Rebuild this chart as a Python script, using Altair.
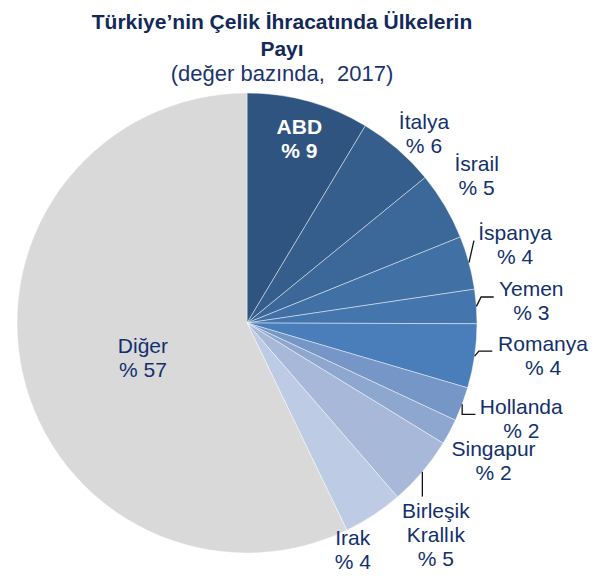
import math
import altair as alt
import pandas as pd

# ---- data ----
countries = ["ABD", "İtalya", "İsrail", "İspanya", "Yemen", "Romanya",
             "Hollanda", "Singapur", "Birleşik Krallık", "Irak", "Diğer"]
shares = [8.6, 5.5, 4.8, 3.75, 2.4, 4.5, 2.4, 1.8, 4.9, 4.2, 57.15]
pct_labels = ["% 9", "% 6", "% 5", "% 4", "% 3", "% 4", "% 2", "% 2", "% 5", "% 4", "% 57"]
name_lines = ["ABD", "İtalya", "İsrail", "İspanya", "Yemen", "Romanya",
              "Hollanda", "Singapur", "Birleşik\nKrallık", "Irak", "Diğer"]
colors = ["#2f5480", "#365e8c", "#3b6898", "#4070a4", "#4475ad", "#4a7ebb",
          "#7596c6", "#8ea7cf", "#a7b8d8", "#bdcbe4", "#d9d9d9"]

# ---- label layout (angle nudge in % units, radius in px) ----
label_nudge = [0.14, 0.68, -0.5, -0.25, -0.02, -0.47, -0.33, 0.32, 2.27, 2.33, -1.68]
label_radius = [190, 258, 272, 279, 285, 298, 291, 283, 285, 251, 110]

# ---- leader line shapes (pixel offsets from the slice's edge point) ----
leader_country = ["İspanya", "İspanya", "Yemen", "Yemen", "Yemen",
                  "Romanya", "Romanya", "Romanya", "Hollanda", "Hollanda", "Hollanda",
                  "Birleşik Krallık", "Birleşik Krallık"]
leader_ox = [0, 5, 0, 4.7, 17.3, 0, 4.3, 17.7, 0, 0, 13.3, 0, 0]
leader_oy = [0, -22, 0, -9.4, -9.4, 0, -5, -5, 0, 10, 10, 0, 24.7]

CX, CY, R = 239, 215, 230

df = pd.DataFrame({
    "country": countries,
    "share": shares,
    "idx": list(range(len(countries))),
})
cum = df["share"].cumsum()
df["mid"] = cum - df["share"] / 2
df["lpos"] = df["mid"] + pd.Series(label_nudge)
df["lrad"] = label_radius
df["label"] = [n + "\n" + p for n, p in zip(name_lines, pct_labels)]
df["nlines"] = df["label"].str.count("\n") + 1

mids = dict(zip(df["country"], df["mid"]))
lead = pd.DataFrame({"country": leader_country, "ox": leader_ox, "oy": leader_oy})
lead["step"] = lead.groupby("country").cumcount()
ang = lead["country"].map(mids) * 2 * math.pi / 100
lead["x"] = CX + R * ang.map(math.sin) + lead["ox"]
lead["y"] = CY - R * ang.map(math.cos) + lead["oy"]

theta_scale = alt.Scale(domain=[0, 100], range=[0, 2 * math.pi])
color_scale = alt.Scale(domain=countries, range=colors)

pie = alt.Chart(df).mark_arc(
    outerRadius=R, stroke="#ffffff", strokeWidth=0.8, strokeOpacity=0.55
).encode(
    theta=alt.Theta("share:Q", stack=True, scale=theta_scale),
    order=alt.Order("idx:Q"),
    color=alt.Color("country:N", scale=color_scale, legend=None),
    x=alt.value(CX),
    y=alt.value(CY),
)

leaders = alt.Chart(lead).mark_line(color="#111111", strokeWidth=1.3).encode(
    x=alt.X("x:Q", scale=None),
    y=alt.Y("y:Q", scale=None),
    detail="country:N",
    order="step:Q",
)

text_common = dict(lineBreak="\n", lineHeight=24, fontSize=21,
                   font="Liberation Sans", align="center", baseline="middle")


def label_layer(filt, nl, **kw):
    return alt.Chart(df).transform_filter(filt).transform_filter(
        alt.datum.nlines == nl
    ).mark_text(dy=-12 * (nl - 1), **text_common, **kw).encode(
        theta=alt.Theta("lpos:Q", stack=False, scale=theta_scale),
        radius=alt.Radius("lrad:Q", scale=None),
        text="label:N",
        x=alt.value(CX),
        y=alt.value(CY),
    )


labels2 = label_layer(alt.datum.country != "ABD", 2, color="#12306e")
labels3 = label_layer(alt.datum.country != "ABD", 3, color="#12306e")
labels_abd = label_layer(alt.datum.country == "ABD", 2, color="#ffffff", fontWeight="bold")

chart = alt.layer(pie, leaders, labels2, labels3, labels_abd).properties(
    width=588,
    height=466,
    autosize=alt.AutoSizeParams(type="none"),
    padding={"top": 100, "left": 0, "right": 0, "bottom": 0},
    title=alt.TitleParams(
        text=["Türkiye’nin Çelik İhracatında Ülkelerin", "Payı"],
        subtitle="(değer bazında,\u00a0 2017)",
        anchor="middle",
        dx=-20,
        font="Liberation Sans",
        fontSize=21,
        fontWeight="bold",
        color="#13295a",
        lineHeight=27,
        subtitleFont="Liberation Sans",
        subtitleFontSize=22,
        subtitleColor="#1b3470",
        subtitleLineHeight=27,
        subtitlePadding=4,
        offset=6,
    ),
).configure_view(stroke=None)

chart.save("out.html", embed_options={"renderer": "svg", "actions": False})
